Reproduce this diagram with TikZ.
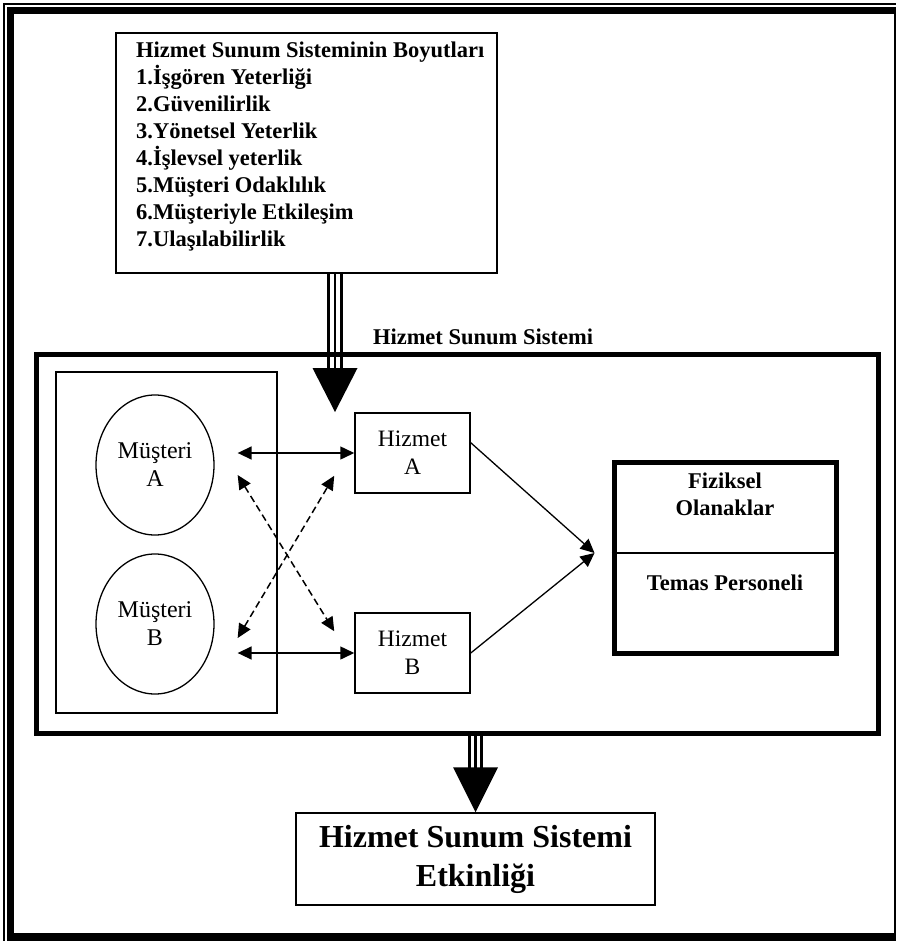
\documentclass[tikz,border=0pt]{standalone}
\usepackage{fontspec}
\setmainfont{Liberation Serif}
\usetikzlibrary{arrows.meta,calc,positioning,shapes.geometric}

\tikzset{
  box/.style={draw,line width=1.5pt,inner sep=0pt},
  heavybox/.style={draw,line width=5pt,inner sep=0pt},
  client/.style={draw,ellipse,line width=1.3pt,minimum width=118pt,minimum height=140pt,
    align=center,inner sep=0pt,font=\fontsize{24}{28}\selectfont},
  service/.style={box,minimum width=115pt,minimum height=80pt,align=center,
    font=\fontsize{23.5}{28}\selectfont},
  bold/.style={font=\fontsize{22.5}{27}\selectfont\bfseries},
  link/.style={line width=1.5pt,{Triangle[length=14pt,width=13pt]}-{Triangle[length=14pt,width=13pt]}},
  tolink/.style={line width=1.3pt,-{Triangle[length=14pt,width=13pt]}},
  dashlink/.style={link,dash pattern=on 7pt off 4pt},
}

\begin{document}
\begin{tikzpicture}[x=1pt,y=-1pt]
    \useasboundingbox (0,0) rectangle (896,941);
    % page frame
    \draw[line width=1.3pt] (4,941) -- (4,4) -- (896,4);
    \draw[line width=7pt] (10.5,941) -- (10.5,7) (7,10.5) -- (896,10.5);
    \draw[line width=8pt] (7,937) -- (896,937);
    \draw[line width=1.5pt] (895,14) -- (895,933);

    % dimensions
    \node[box,minimum width=381pt,minimum height=240pt] (dims) at (306.5,153) {};
    \node[bold,align=left,anchor=north west,inner sep=0pt] (dimlist) at (136,42)
      {Hizmet Sunum Sisteminin Boyutları\\1.İşgören Yeterliği\\2.Güvenilirlik\\3.Yönetsel Yeterlik\\
       4.İşlevsel yeterlik\\5.Müşteri Odaklılık\\6.Müşteriyle Etkileşim\\7.Ulaşılabilirlik};

    % system
    \node[heavybox,minimum width=842pt,minimum height=379pt] (sys) at (457,543.5) {};
    \node[bold] (systitle) at (483,337) {Hizmet Sunum Sistemi};
    \node[box,line width=1.3pt,minimum width=221pt,minimum height=341pt] (clients) at (166.5,542.5) {};
    \node[client] (mA) at (155,465) {Müşteri\\A};
    \node[client] (mB) at (155,624) {Müşteri\\B};
    \node[service] (hA) at (412.5,453) {Hizmet\\A};
    \node[service] (hB) at (412.5,653) {Hizmet\\B};

    \node[heavybox,minimum width=222pt,minimum height=191pt] (fiz) at (725,557.5) {};
    \coordinate (fizdiv) at (725,553);
    \draw[line width=1.3pt] (fizdiv -| fiz.west) -- (fizdiv -| fiz.east);
    \node[bold,align=center] (fizup) at (725,494) {Fiziksel\\Olanaklar};
    \node[bold] (fizlow) at (725,583) {Temas Personeli};

    \draw[link,shorten >=23pt] (hA.west) -- (hA.west -| mA.east);
    \draw[link,shorten >=23pt] (hB.west) -- (hB.west -| mB.east);
    \draw[dashlink] ($(mA.east)+(23,10)$) -- ($(hB.north west)+(-20,19)$);
    \draw[dashlink] ($(mB.east)+(23,14)$) -- ($(hA.south west)+(-20,-18)$);
    \draw[tolink] (hA.10) -- ($(fizdiv -| fiz.west)+(-17,0)$);
    \draw[tolink] (hB.east) -- ($(fizdiv -| fiz.west)+(-17,0)$);

    % effectiveness
    \node[box,minimum width=359pt,minimum height=92pt,align=center,
      font=\fontsize{32}{39}\selectfont\bfseries] (eff) at (475.5,859) {Hizmet Sunum Sistemi\\Etkinliği};

    % wide arrows
    \coordinate (inTip) at (335,412);
    \foreach \dx in {-6.5,0,6.5}
      \draw[line width=2.5pt] ($(inTip |- dims.south)+(\dx,0)$) -- ($(inTip)+(\dx,-42)$);
    \fill ($(inTip)+(-22.5,-44)$) -- ($(inTip)+(22.5,-44)$) -- (inTip) -- cycle;
    \foreach \dx in {-6,0,6}
      \draw[line width=2.5pt] ($(eff.north |- sys.south)+(\dx,0)$) -- ($(eff.north)+(\dx,-42)$);
    \fill ($(eff.north)+(-22.5,-45)$) -- ($(eff.north)+(22.5,-45)$) -- (eff.north) -- cycle;
\end{tikzpicture}
\end{document}
